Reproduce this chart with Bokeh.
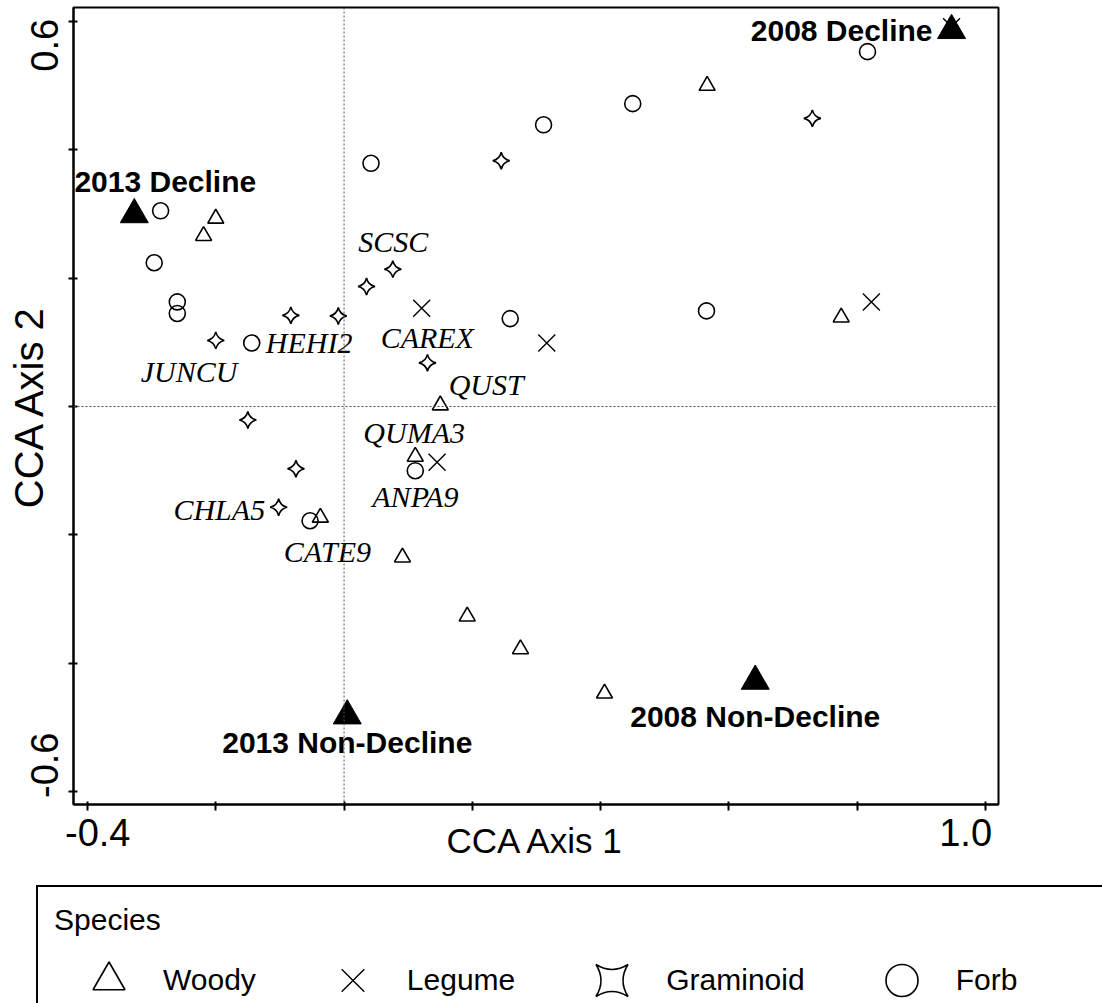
import math
from bokeh.plotting import figure
from bokeh.models import Range1d, FixedTicker, Span, Legend, LegendItem, PrintfTickFormatter
from bokeh.core.properties import value
from bokeh.embed import file_html
from bokeh.resources import INLINE

# ---- data (CCA scores) ----
woody_x = [0.566, -0.200, -0.219, 0.775, 0.150, 0.111, -0.037, 0.091, 0.192, 0.275, 0.406]
woody_y = [0.500, 0.293, 0.266, 0.139, 0.002, -0.078, -0.173, -0.235, -0.327, -0.378, -0.447]

legume_x = [0.121, 0.822, 0.316, 0.145, 0.947]
legume_y = [0.153, 0.163, 0.099, -0.087, 0.592]

gram_x = [0.730, 0.245, 0.076, 0.035, -0.083, -0.009, -0.200, 0.130, -0.150, -0.075, -0.102]
gram_y = [0.449, 0.383, 0.214, 0.187, 0.142, 0.141, 0.103, 0.068, -0.021, -0.097, -0.157]

forb_x = [0.816, 0.450, 0.311, 0.042, -0.286, -0.296, -0.260, -0.260, 0.259, 0.565, -0.144, 0.111, -0.053]
forb_y = [0.553, 0.472, 0.439, 0.379, 0.305, 0.224, 0.163, 0.145, 0.137, 0.149, 0.099, -0.100, -0.178]

site_names = ["2008 Decline", "2013 Decline", "2013 Non-Decline", "2008 Non-Decline"]
site_x = [0.947, -0.327, 0.005, 0.641]
site_y = [0.586, 0.299, -0.482, -0.428]

species_codes = ["SCSC", "HEHI2", "JUNCU", "CAREX", "QUST", "QUMA3", "ANPA9", "CHLA5", "CATE9"]
code_x = [0.022, -0.122, -0.317, 0.057, 0.163, 0.030, 0.044, -0.266, -0.094]
code_y = [0.257, 0.100, 0.055, 0.108, 0.034, -0.041, -0.141, -0.161, -0.226]

# tick marks every 0.2; end labels sit slightly inside the ends, as in the original
x_tick_marks = [-0.4, -0.2, 0.0, 0.2, 0.4, 0.6, 0.8, 1.0]
x_label_at = [-0.384, 0.969]      # shown as -0.4 and 1.0
y_tick_marks = [-0.6, -0.4, -0.2, 0.0, 0.2, 0.4, 0.6]
y_label_at = [-0.559, 0.563]      # shown as -0.6 and 0.6

legend_title = "Species"
legend_labels = ["Woody", "Legume", "Graminoid", "Forb"]

SANS = "Liberation Sans"
SERIF = "Liberation Serif"

# ---- main plot ----
p = figure(width=1102, height=884,
           x_range=Range1d(-0.4218, 1.0202), y_range=Range1d(-0.6202, 0.6218),
           output_backend="svg", toolbar_location=None,
           min_border_left=73, min_border_right=104, min_border_top=7, min_border_bottom=80)
p.grid.visible = False
p.outline_line_color = "black"
p.outline_line_width = 2
p.background_fill_color = "white"
p.border_fill_color = "white"

xa = p.xaxis[0]
xa.ticker = FixedTicker(ticks=x_label_at, minor_ticks=x_tick_marks)
ya = p.yaxis[0]
ya.ticker = FixedTicker(ticks=y_label_at, minor_ticks=y_tick_marks)
for ax in (xa, ya):
    ax.formatter = PrintfTickFormatter(format="%.1f")
    ax.axis_line_width = 2
    ax.axis_line_color = "black"
    ax.major_tick_line_color = None
    ax.minor_tick_line_width = 2
    ax.minor_tick_line_color = "black"
    ax.major_label_text_font = SANS
    ax.major_label_text_color = "black"
    ax.axis_label_text_font = SANS
    ax.axis_label_text_font_style = "normal"
    ax.axis_label_text_color = "black"

xa.major_tick_in = 0
xa.major_tick_out = 6
xa.minor_tick_in = 3
xa.minor_tick_out = 6
xa.major_label_standoff = 8
xa.major_label_text_font_size = "38px"
xa.axis_label = "CCA Axis 1"
xa.axis_label_text_font_size = "35px"
xa.axis_label_standoff = -28

ya.major_tick_in = 0
ya.major_tick_out = 5
ya.minor_tick_in = 4
ya.minor_tick_out = 5
ya.major_label_standoff = 10
ya.major_label_text_font_size = "38px"
ya.major_label_orientation = "vertical"
ya.axis_label = "CCA Axis 2"
ya.axis_label_text_font_size = "40px"
ya.axis_label_standoff = -22

# zero reference lines
p.add_layout(Span(location=0, dimension="height", line_color="#505050", line_width=1, line_dash="2 2"))
p.add_layout(Span(location=0, dimension="width", line_color="#505050", line_width=1, line_dash="2 2"))

# ---- species points ----
woody_style = dict(marker="triangle", size=16, fill_color=None, line_color="black", line_width=1.6)
legume_style = dict(marker="x", size=24, line_color="black", line_width=1.4)
gram_style = dict(marker="square_pin", angle=math.pi / 4, size=12, fill_color=None,
                  line_color="black", line_width=1.6)
forb_style = dict(marker="circle", size=16, fill_color=None, line_color="black", line_width=1.6)

p.scatter(woody_x, woody_y, **woody_style)
p.scatter(legume_x, legume_y, **legume_style)
p.scatter(gram_x, gram_y, **gram_style)
p.scatter(forb_x, forb_y, **forb_style)

# ---- site centroids ----
p.scatter(site_x, site_y, marker="triangle", size=28, fill_color="black", line_color="black")

site_style = [
    dict(text_align="right", x_offset=-19, y_offset=0),
    dict(text_align="center", x_offset=31, y_offset=-33),
    dict(text_align="center", x_offset=0, y_offset=27),
    dict(text_align="center", x_offset=0, y_offset=35),
]
for i, name in enumerate(site_names):
    p.text([site_x[i]], [site_y[i]], text=[name], text_font=value(SANS), text_font_style="bold",
           text_font_size="30px", text_color="black", text_baseline="alphabetic", **site_style[i])

# ---- species code labels ----
p.text(code_x, code_y, text=species_codes, text_font=value(SERIF), text_font_style="italic",
       text_font_size="30px", text_color="black", text_align="left", text_baseline="alphabetic")

# ---- legend strip (its own root, so it is not frame-aligned with the plot) ----
lg = figure(width=1102, height=119, x_range=Range1d(0, 1), y_range=Range1d(10, 11),
            output_backend="svg", toolbar_location=None,
            x_axis_location=None, y_axis_location=None,
            min_border_left=0, min_border_right=0, min_border_top=0, min_border_bottom=0)
lg.grid.visible = False
lg.outline_line_color = None
lg.background_fill_color = "white"
lg.border_fill_color = "white"

# same series, styled as in the plot; they fall outside this strip's range and only feed the legend
r_w = lg.scatter(woody_x, woody_y, **woody_style)
r_l = lg.scatter(legume_x, legume_y, **legume_style)
r_g = lg.scatter(gram_x, gram_y, **gram_style)
r_f = lg.scatter(forb_x, forb_y, **forb_style)
r_pad = lg.scatter(forb_x, forb_y, marker="circle", size=1, fill_alpha=0, line_alpha=0)

legend = Legend(
    items=[LegendItem(label=legend_labels[0], renderers=[r_w]),
           LegendItem(label=legend_labels[1], renderers=[r_l]),
           LegendItem(label=legend_labels[2], renderers=[r_g]),
           LegendItem(label=legend_labels[3], renderers=[r_f]),
           LegendItem(label=" ", renderers=[r_pad])],
    orientation="horizontal", location=(36, -35),
    title=legend_title, title_text_font=SANS, title_text_font_size="30px",
    title_text_font_style="normal", title_text_color="black", title_standoff=3,
    label_text_font=SANS, label_text_font_size="30px", label_text_color="black",
    glyph_width=109, glyph_height=80, label_standoff=0, spacing=42, padding=16, margin=0,
    border_line_color="black", border_line_width=2, border_line_alpha=1.0,
    background_fill_alpha=0,
)
lg.add_layout(legend)

open("out.html", "w").write(file_html([p, lg], INLINE))
